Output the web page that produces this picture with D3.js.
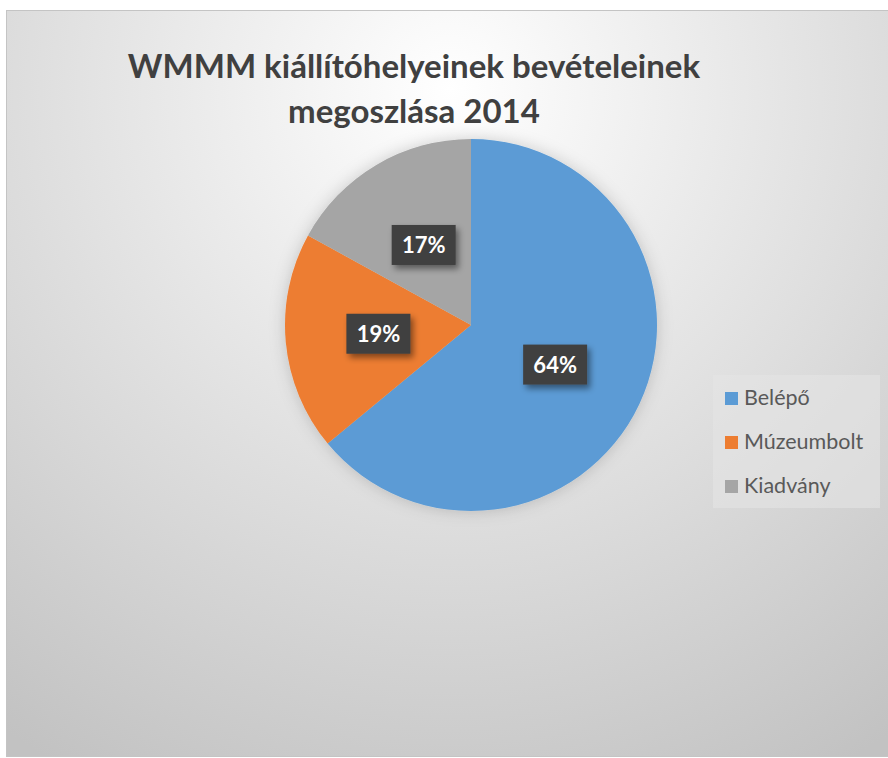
<!DOCTYPE html>
<html>
<head>
    <meta charset="utf-8">
    <title>WMMM bevételek 2014</title>
    <script src="https://cdnjs.cloudflare.com/ajax/libs/d3/7.8.5/d3.min.js"></script>
    <style>
        body { margin: 0; background: #fff; }
        text { font-family: Lato, "Open Sans", sans-serif; }
    </style>
</head>
<body>
<script type="text/javascript">
    var categories = ["Belépő", "Múzeumbolt", "Kiadvány"],
        values = [64, 19, 17],
        colors = ["#5b9bd5", "#ed7d31", "#a5a5a5"],
        titleLines = ["WMMM kiállítóhelyeinek bevételeinek", "megoszlása 2014"];

    var width = 888,
        height = 758,
        cx = 471,
        cy = 325,
        radius = 186;

    var svg = d3.select("body").append("svg")
        .attr("width", width)
        .attr("height", height);

    var defs = svg.append("defs");

    var bg = defs.append("radialGradient")
        .attr("id", "bg")
        .attr("gradientUnits", "userSpaceOnUse")
        .attr("cx", 450).attr("cy", 90).attr("r", 780);
    bg.append("stop").attr("offset", "0").attr("stop-color", "#ffffff");
    bg.append("stop").attr("offset", "1").attr("stop-color", "#c2c2c2");

    defs.append("filter").attr("id", "boxShadow")
        .attr("x", "-30%").attr("y", "-30%").attr("width", "160%").attr("height", "170%")
        .append("feDropShadow")
        .attr("dx", 3).attr("dy", 4).attr("stdDeviation", 3)
        .attr("flood-color", "#000").attr("flood-opacity", 0.45);

    defs.append("filter").attr("id", "pieGlow")
        .attr("x", "-20%").attr("y", "-20%").attr("width", "140%").attr("height", "140%")
        .append("feDropShadow")
        .attr("dx", 0).attr("dy", 0).attr("stdDeviation", 8)
        .attr("flood-color", "#000").attr("flood-opacity", 0.18);

    // chart area
    svg.append("rect")
        .attr("x", 6.5).attr("y", 10.5)
        .attr("width", width + 10).attr("height", 746)
        .attr("fill", "url(#bg)")
        .attr("stroke", "#c4c4c4");

    // title
    svg.append("g").selectAll("text")
        .data(titleLines)
        .enter().append("text")
        .attr("x", 414)
        .attr("y", function(d, i){ return 78 + i * 45; })
        .attr("text-anchor", "middle")
        .attr("font-size", 33)
        .attr("font-weight", "bold")
        .attr("fill", "#404040")
        .text(function(d){ return d; });

    // pie
    var pie = d3.pie().sort(null).value(function(d){ return d; });
    var arc = d3.arc().innerRadius(0).outerRadius(radius);
    var arcs = pie(values);

    var g = svg.append("g")
        .attr("transform", "translate(" + cx + "," + cy + ")");

    g.append("g").attr("filter", "url(#pieGlow)")
        .selectAll("path")
        .data(arcs)
        .enter().append("path")
        .attr("d", arc)
        .attr("fill", function(d, i){ return colors[i]; });

    var labels = g.selectAll("g.label")
        .data(arcs)
        .enter().append("g")
        .attr("class", "label")
        .attr("transform", function(d){ return "translate(" + arc.centroid(d) + ")"; });

    labels.append("rect")
        .attr("x", -32).attr("y", -20)
        .attr("width", 64).attr("height", 40)
        .attr("fill", "#404040")
        .attr("filter", "url(#boxShadow)");

    labels.append("text")
        .attr("text-anchor", "middle")
        .attr("dy", "0.36em")
        .attr("font-size", 22)
        .attr("font-weight", "bold")
        .attr("fill", "#ffffff")
        .text(function(d){ return d.data + "%"; });

    // legend
    var legend = svg.append("g");
    legend.append("rect")
        .attr("x", 713).attr("y", 375)
        .attr("width", 167).attr("height", 133)
        .attr("fill", "#e4e4e4")
        .attr("fill-opacity", 0.6);

    var item = legend.selectAll("g.item")
        .data(categories)
        .enter().append("g")
        .attr("class", "item")
        .attr("transform", function(d, i){ return "translate(725," + (405 + i * 44) + ")"; });

    item.append("rect")
        .attr("x", 0).attr("y", -13)
        .attr("width", 13).attr("height", 13)
        .attr("fill", function(d, i){ return colors[i]; });

    item.append("text")
        .attr("x", 19)
        .attr("y", 0)
        .attr("font-size", 21.5)
        .attr("fill", "#595959")
        .text(function(d){ return d; });
</script>
</body>
</html>
